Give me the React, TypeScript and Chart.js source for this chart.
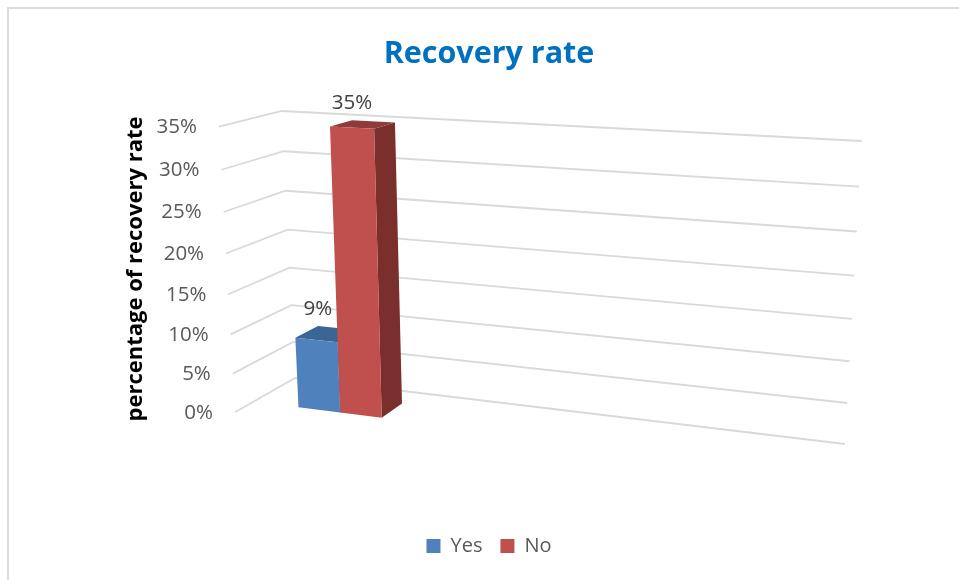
import React, { useEffect, useRef } from "react";
import { Chart, registerables } from "chart.js";

Chart.register(...registerables);

const categories = ["", "", ""];
const yesValues = [9, null, null];
const noValues = [35, null, null];
const seriesNames = ["Yes", "No"];
const chartTitle = "Recovery rate";
const axisTitle = "percentage of recovery rate";

const FONT = "'Open Sans', sans-serif";
const TEXT_GREY = "#595959";
const GRID_GREY = "#d9d9d9";
const FACE_COLORS = ["#4f81bd", "#c0504d"];
const TOP_COLORS = ["#3a6594", "#8f3b39"];
const SIDE_COLORS = ["#2f5078", "#7a2f2d"];

type Pt = [number, number];

// Corners of the 3D plot box on the canvas: front/back, bottom/top, left/right.
const BOX = {
  fbl: [235, 412.3] as Pt,
  bbl: [295, 378] as Pt,
  bbr: [845, 444] as Pt,
  fbr: [821, 488.4] as Pt,
  ftl: [218.9, 126.7] as Pt,
  btl: [281.7, 111] as Pt,
  btr: [861.7, 141] as Pt,
  ftr: [841, 159.2] as Pt,
};
const VERTICAL_PERSPECTIVE = 0.065;
const BAR_DEPTH_FRONT = 0.315;
const BAR_DEPTH_BACK = 0.705;
const CATEGORY_SPAN = 0.9;

const lerp = (a: Pt, b: Pt, t: number): Pt => [a[0] + (b[0] - a[0]) * t, a[1] + (b[1] - a[1]) * t];

// u runs along the categories, v up the value axis, w from front to back.
function project(u: number, v: number, w: number): Pt {
  const h = v / (1 + VERTICAL_PERSPECTIVE * (1 - v));
  const bottom = lerp(lerp(BOX.fbl, BOX.fbr, u), lerp(BOX.bbl, BOX.bbr, u), w);
  const top = lerp(lerp(BOX.ftl, BOX.ftr, u), lerp(BOX.btl, BOX.btr, u), w);
  return lerp(bottom, top, h);
}

function polygon(ctx: CanvasRenderingContext2D, pts: Pt[], fill: string) {
  ctx.beginPath();
  pts.forEach((p, i) => (i ? ctx.lineTo(p[0], p[1]) : ctx.moveTo(p[0], p[1])));
  ctx.closePath();
  ctx.fillStyle = fill;
  ctx.fill();
}

const valueFraction = (chart: any, px: number) =>
  (chart.scales.y.bottom - px) / (chart.scales.y.bottom - chart.scales.y.top);
const categoryFraction = (chart: any, px: number) =>
  ((px - chart.scales.x.left) / (chart.scales.x.right - chart.scales.x.left)) * CATEGORY_SPAN;

const frame3d = {
  id: "frame3d",
  beforeDraw(chart: any) {
    // Thin frame along the top and left edges of the chart.
    const { ctx, width, height } = chart;
    ctx.save();
    ctx.fillStyle = "#dcdcdc";
    ctx.fillRect(7, 7, width - 7, 2);
    ctx.fillRect(7, 7, 2, height - 7);
    ctx.restore();
  },
  beforeDatasetsDraw(chart: any) {
    const { ctx } = chart;
    const y = chart.scales.y;
    ctx.save();
    ctx.strokeStyle = GRID_GREY;
    ctx.lineWidth = 1.8;
    y.ticks.forEach((tick: any) => {
      const v = valueFraction(chart, y.getPixelForValue(tick.value));
      const a = project(0, v, 0);
      const b = project(0, v, 1);
      const c = project(1, v, 1);
      ctx.beginPath();
      ctx.moveTo(a[0], a[1]);
      ctx.lineTo(b[0], b[1]);
      ctx.lineTo(c[0], c[1]);
      ctx.stroke();
      ctx.fillStyle = TEXT_GREY;
      ctx.font = `20.5px ${FONT}`;
      ctx.textAlign = "right";
      ctx.textBaseline = "middle";
      ctx.fillText(tick.label, a[0] - 22, a[1] + 0.5);
    });
    ctx.translate(135.5, 269);
    ctx.rotate(-Math.PI / 2);
    ctx.fillStyle = "#000000";
    ctx.font = `bold 22px ${FONT}`;
    ctx.textAlign = "center";
    ctx.textBaseline = "middle";
    ctx.fillText(axisTitle, 0, 0);
    ctx.restore();

    // Boxes are painted in series order, so the later one covers the earlier one's side.
    chart.data.datasets.forEach((ds: any, index: number) => {
      chart.getDatasetMeta(index).data.forEach((bar: any, i: number) => {
        if (ds.data[i] == null) return;
        const { x, y: top, base, width } = bar.getProps(["x", "y", "base", "width"], true);
        const u0 = categoryFraction(chart, x - width / 2);
        const u1 = categoryFraction(chart, x + width / 2);
        const v0 = valueFraction(chart, base);
        const v1 = valueFraction(chart, top);
        const w0 = BAR_DEPTH_FRONT;
        const w1 = BAR_DEPTH_BACK;
        polygon(ctx, [project(u1, v0, w0), project(u1, v0, w1), project(u1, v1, w1), project(u1, v1, w0)], SIDE_COLORS[index]);
        polygon(ctx, [project(u0, v1, w0), project(u1, v1, w0), project(u1, v1, w1), project(u0, v1, w1)], TOP_COLORS[index]);
        polygon(ctx, [project(u0, v0, w0), project(u1, v0, w0), project(u1, v1, w0), project(u0, v1, w0)], FACE_COLORS[index]);
      });
    });
  },
  // The flat bars are replaced by the boxes above.
  beforeDatasetDraw() {
    return false;
  },
  afterDatasetsDraw(chart: any) {
    const { ctx } = chart;
    ctx.save();
    ctx.fillStyle = "#404040";
    ctx.font = `20.5px ${FONT}`;
    ctx.textAlign = "center";
    ctx.textBaseline = "middle";
    chart.data.datasets.forEach((ds: any, index: number) => {
      chart.getDatasetMeta(index).data.forEach((bar: any, i: number) => {
        if (ds.data[i] == null) return;
        const { x, y, width } = bar.getProps(["x", "y", "width"], true);
        const anchor = project(categoryFraction(chart, x - width / 2), valueFraction(chart, y), BAR_DEPTH_BACK);
        ctx.fillText(`${ds.data[i]}%`, anchor[0], anchor[1] - 17);
      });
    });
    ctx.restore();
  },
};

export default function App() {
  const ref = useRef<HTMLCanvasElement>(null);
  useEffect(() => {
    if (!ref.current) return;
    const chart = new Chart(ref.current, {
      type: "bar",
      data: {
        labels: categories,
        datasets: [
          { label: seriesNames[0], data: yesValues, backgroundColor: FACE_COLORS[0], borderWidth: 0 },
          { label: seriesNames[1], data: noValues, backgroundColor: FACE_COLORS[1], borderWidth: 0 },
        ],
      },
      options: {
        responsive: false,
        animation: false,
        layout: { padding: { left: 19, top: 26, bottom: 14 } },
        datasets: { bar: { categoryPercentage: 0.483, barPercentage: 1 } },
        scales: {
          x: { display: false },
          y: {
            display: false,
            min: 0,
            max: 35,
            ticks: { stepSize: 5, autoSkip: false, callback: (v: any) => `${v}%` },
          },
        },
        plugins: {
          title: {
            display: true,
            text: chartTitle,
            color: "#0070c0",
            font: { family: FONT, size: 30.5, weight: "bold" },
          },
          legend: {
            position: "bottom",
            labels: { boxWidth: 14, boxHeight: 14, padding: 18, color: TEXT_GREY, font: { family: FONT, size: 20 } },
          },
          tooltip: { enabled: false },
        },
      },
      plugins: [frame3d],
    } as any);
    return () => chart.destroy();
  }, []);
  return (
    <canvas
      ref={ref}
      width={959}
      height={580}
      style={{ position: "absolute", left: 0, top: 0, display: "block" }}
    />
  );
}
